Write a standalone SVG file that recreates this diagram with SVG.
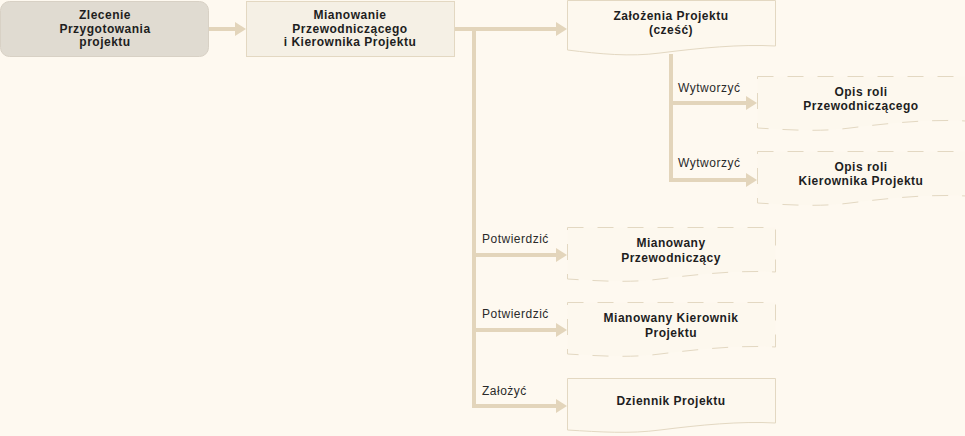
<svg xmlns="http://www.w3.org/2000/svg" width="965" height="436" viewBox="0 0 965 436">
<defs>
<style>
.t{font-family:"Liberation Sans",Arial,sans-serif;font-size:12px;font-weight:bold;fill:#1e1e1e;text-anchor:middle;letter-spacing:0.5px}
.l{font-family:"Liberation Sans",Arial,sans-serif;font-size:12px;fill:#2a2a2a;letter-spacing:0.5px}
.c{fill:none;stroke:#e3d5bb;stroke-width:4}
.doc{fill:#fdf8ee;stroke:#e3d8c2;stroke-width:1}
.dash{stroke-dasharray:16 14}
</style>
<marker id="ah" markerWidth="11" markerHeight="14" refX="0" refY="7" orient="auto" markerUnits="userSpaceOnUse">
<path d="M0,0 L11,7 L0,14 Z" fill="#e3d5bb"/>
</marker>
</defs>
<rect width="965" height="436" fill="#fef9f0"/>
<g id="connectors">
<path class="c" d="M209,29 H235" marker-end="url(#ah)"/>
<path class="c" d="M455,29 H556" marker-end="url(#ah)"/>
<path class="c" d="M474,29 V406 H556" marker-end="url(#ah)"/>
<path class="c" d="M474,255 H556" marker-end="url(#ah)"/>
<path class="c" d="M474,330 H556" marker-end="url(#ah)"/>
<path class="c" d="M671,54 V180 H746" marker-end="url(#ah)"/>
<path class="c" d="M671,103 H746" marker-end="url(#ah)"/>
<text class="l" x="678" y="92">Wytworzyć</text>
<text class="l" x="678" y="167">Wytworzyć</text>
<text class="l" x="482" y="243">Potwierdzić</text>
<text class="l" x="482" y="318">Potwierdzić</text>
<text class="l" x="482" y="395">Założyć</text>
</g>
<g id="n1">
<rect x="0.5" y="1.5" width="208" height="55" rx="9" fill="#e0dbd1" stroke="#d8d1c5"/>
<text class="t" x="105" y="19">Zlecenie</text>
<text class="t" x="105" y="32.5">Przygotowania</text>
<text class="t" x="105" y="46">projektu</text>
</g>
<g id="n2">
<rect x="246.5" y="1.5" width="208" height="55" fill="#f5f0e5" stroke="#e3d8c2"/>
<text class="t" x="350" y="19">Mianowanie</text>
<text class="t" x="350" y="32.5">Przewodniczącego</text>
<text class="t" x="350" y="46">i Kierownika Projektu</text>
</g>
<g id="n3">
<path class="doc" d="M567.5,0.5 H775.5 V46 C740,44 700,48 660,53 C630,57 600,54 567.5,50 Z"/>
<text class="t" x="671" y="20">Założenia Projektu</text>
<text class="t" x="671" y="34">(cześć)</text>
</g>
<g id="n4">
<path class="doc dash" d="M757.5,76.5 H965.5 V121 C930,119 890,123 850,128 C820,132 790,130 757.5,128 Z"/>
<text class="t" x="861" y="96">Opis roli</text>
<text class="t" x="861" y="109.5">Przewodniczącego</text>
</g>
<g id="n5">
<path class="doc dash" d="M757.5,151.5 H965.5 V196 C930,194 890,198 850,203 C820,207 790,205 757.5,203 Z"/>
<text class="t" x="861" y="171">Opis roli</text>
<text class="t" x="861" y="185">Kierownika Projektu</text>
</g>
<g id="n6">
<path class="doc dash" d="M567.5,227.5 H775.5 V272 C740,270 700,274 660,279 C630,283 600,281 567.5,279 Z"/>
<text class="t" x="671" y="247">Mianowany</text>
<text class="t" x="671" y="262">Przewodniczący</text>
</g>
<g id="n7">
<path class="doc dash" d="M567.5,302.5 H775.5 V347 C740,345 700,349 660,354 C630,358 600,356 567.5,354 Z"/>
<text class="t" x="671" y="322">Mianowany Kierownik</text>
<text class="t" x="671" y="337">Projektu</text>
</g>
<g id="n8">
<path class="doc" d="M567.5,378.5 H775.5 V423 C740,421 700,425 660,430 C630,434 600,432 567.5,430 Z"/>
<text class="t" x="671" y="405">Dziennik Projektu</text>
</g>
</svg>
